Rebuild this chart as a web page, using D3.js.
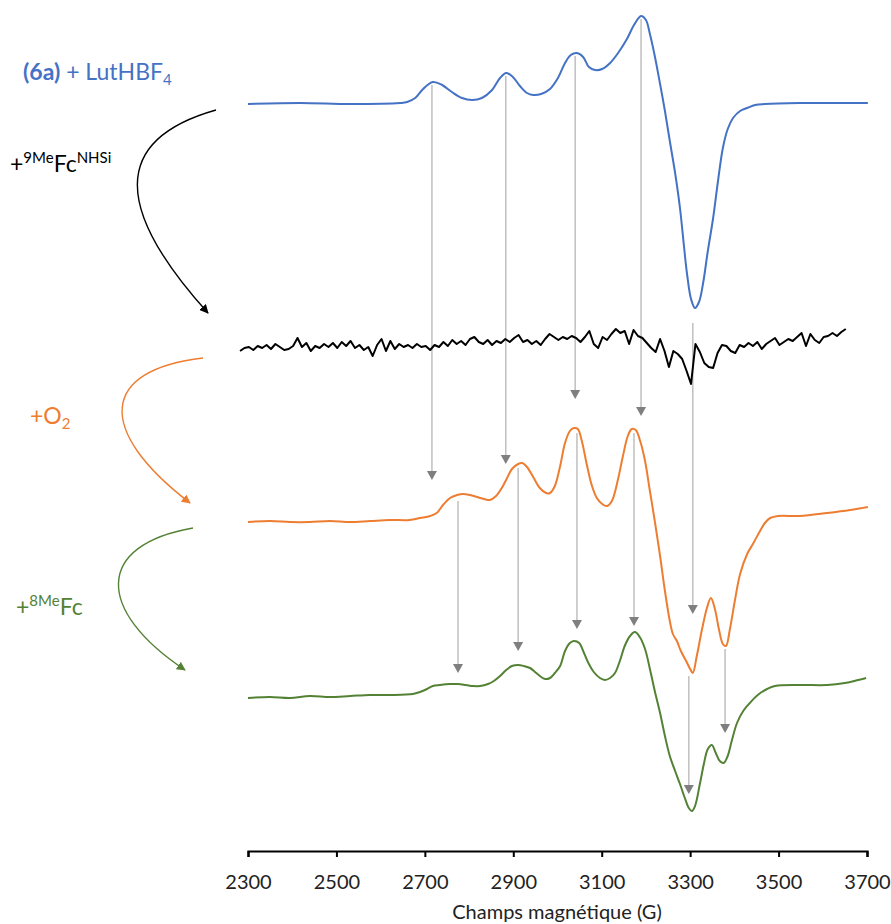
<!DOCTYPE html>
<html>
<head>
<meta charset="utf-8">
<script src="https://cdn.jsdelivr.net/npm/d3@7"></script>
<style>
html,body{margin:0;padding:0;background:#fff;}
svg{display:block;font-family:Lato,"Open Sans",sans-serif;}
</style>
</head>
<body>
<svg id="chart" width="891" height="924"></svg>
<script>
// ---------- DATA ----------
const fieldTicks = [2300, 2500, 2700, 2900, 3100, 3300, 3500, 3700];

// Blue: (6a) + LutHBF4   [field (G), signal (a.u., stacked)]
const blueSpectrum = [
 [2300,747],[2418,748],[2531,747],[2644,748],[2660,749],[2678,753],[2696,762],[2718,769],[2739,766],
 [2761,759],[2784,753],[2807,751],[2829,753],[2852,761],[2870,773],[2884,778],[2899,774],[2915,765],
 [2931,758],[2945,756],[2963,757],[2983,762],[3001,773],[3017,788],[3030,796],[3044,798],[3058,794],
 [3071,784],[3085,781],[3101,782],[3119,788],[3137,798],[3157,812],[3173,826],[3189,835],[3200,831],
 [3209,817],[3220,795],[3232,767],[3243,740],[3254,710],[3266,678],[3277,643],[3286,605],[3293,577],
 [3302,552],[3311,543],[3320,549],[3329,567],[3340,600],[3352,633],[3363,670],[3374,703],[3385,722],
 [3397,733],[3413,740],[3429,743],[3447,746],[3469,747],[3548,748],[3639,748],[3702,748]
];

// Black: + 9MeFcNHSi (noisy), field grid start/step
const blackStart = 2282, blackStep = 10;
const blackSignal = [
 500,503,504,501,505,503,506,502,507,504,501,502,505,513,504,508,500,505,503,507,
 504,508,503,509,505,510,503,506,501,504,495,506,512,500,510,502,507,504,506,503,
 507,504,505,501,506,504,509,505,511,507,510,506,512,514,509,507,511,506,510,508,
 512,509,513,516,509,511,507,510,506,512,517,514,511,514,512,515,513,509,514,520,
 507,503,514,511,517,522,518,520,507,521,515,513,508,503,499,512,500,484,500,497,
 492,480,467,507,499,488,484,483,498,506,505,500,498,506,504,508,505,509,502,507,
 510,513,506,509,512,510,514,518,505,517,511,508,514,515,518,515,519,522
];

// Orange: + O2
const orangeSpectrum = [
 [2300,329],[2350,330],[2395,329],[2440,329],[2485,330],[2531,329],[2576,330],[2621,331],[2666,331],
 [2689,333],[2712,335],[2727,338],[2741,346],[2757,353],[2773,356],[2786,357],[2802,356],[2818,354],
 [2834,352],[2847,351],[2861,355],[2874,363],[2886,373],[2897,382],[2911,387],[2920,388],[2931,384],
 [2945,374],[2960,363],[2974,358],[2983,358],[2994,365],[3006,385],[3017,408],[3028,420],[3037,423],
 [3046,422],[3055,410],[3067,385],[3078,365],[3089,353],[3101,347],[3112,345],[3123,350],[3137,372],
 [3148,395],[3159,415],[3168,422],[3177,421],[3187,410],[3198,390],[3209,360],[3220,330],[3232,295],
 [3243,260],[3254,230],[3261,217],[3270,210],[3279,200],[3291,190],[3300,182],[3306,178],[3315,195],
 [3327,222],[3338,243],[3347,253],[3356,242],[3365,222],[3374,207],[3381,205],[3390,222],[3401,250],
 [3413,277],[3429,297],[3442,307],[3458,320],[3469,328],[3481,333],[3499,335],[3548,335],[3610,338],
 [3662,341],[3702,344]
];

// Green: + 8MeFc
const greenSpectrum = [
 [2300,153],[2350,154],[2395,153],[2440,155],[2485,154],[2531,155],[2576,156],[2621,156],[2673,157],
 [2689,159],[2705,162],[2718,165],[2734,166],[2757,167],[2775,167],[2793,166],[2809,165],[2825,165],
 [2843,167],[2856,170],[2870,175],[2884,181],[2897,185],[2911,186],[2924,185],[2938,183],[2949,179],
 [2960,175],[2972,172],[2983,173],[2994,178],[3006,185],[3017,200],[3028,208],[3037,210],[3049,208],
 [3060,198],[3071,187],[3082,179],[3096,173],[3107,171],[3119,173],[3130,178],[3141,190],[3152,205],
 [3164,215],[3175,219],[3186,214],[3198,202],[3209,182],[3220,160],[3232,138],[3243,115],[3254,95],
 [3266,80],[3277,67],[3288,53],[3297,43],[3304,40],[3311,45],[3322,67],[3331,87],[3340,102],[3349,106],
 [3358,98],[3367,90],[3376,88],[3385,95],[3394,110],[3406,128],[3420,140],[3435,148],[3453,156],
 [3474,162],[3492,165],[3548,166],[3610,166],[3650,168],[3680,171],[3698,173]
];

// Gray correspondence arrows: [field, from signal, to signal]
const arrowsBlueToOrange = [[2716,766,371],[2883,775,387],[3040,795,452],[3189,832,435],[3306,528,237]];
const arrowsOrangeToGreen = [[2775,350,178],[2911,383,200],[3044,418,222],[3173,418,225],[3297,175,57],[3379,202,118]];

const colors = {blue:"#4472C4", black:"#000000", orange:"#ED7D31", green:"#548235"};

// ---------- CHART ----------
const svg = d3.select("#chart");
const x = d3.scaleLinear().domain([2300, 3700]).range([248, 867]);
const y = d3.scaleLinear().domain([0, 850]).range([851, 1]);

const line = d3.line().x(d => x(d[0])).y(d => y(d[1])).curve(d3.curveCatmullRom.alpha(0.5));
const lineLin = d3.line().x(d => x(d[0])).y(d => y(d[1]));

const blackSpectrum = blackSignal.map((v, i) => [blackStart + i * blackStep, v]);

// gray arrows (under traces)
const gA = svg.append("g");
function drawArrow(a){
  const xx = x(a[0]), y1 = y(a[1]), y2 = y(a[2]);
  gA.append("line").attr("x1", xx).attr("x2", xx).attr("y1", y1).attr("y2", y2 - 8)
    .attr("stroke", "#BFBFBF").attr("stroke-width", 1.5);
  gA.append("path").attr("d", `M${xx-5},${y2-9}L${xx+5},${y2-9}L${xx},${y2}Z`).attr("fill", "#7F7F7F");
}
arrowsBlueToOrange.forEach(drawArrow);
arrowsOrangeToGreen.forEach(drawArrow);

// traces
svg.append("path").datum(blueSpectrum).attr("d", line).attr("fill","none").attr("stroke",colors.blue).attr("stroke-width",2);
svg.append("path").datum(blackSpectrum).attr("d", lineLin).attr("fill","none").attr("stroke",colors.black).attr("stroke-width",2).attr("stroke-linejoin","round");
svg.append("path").datum(orangeSpectrum).attr("d", line).attr("fill","none").attr("stroke",colors.orange).attr("stroke-width",2);
svg.append("path").datum(greenSpectrum).attr("d", line).attr("fill","none").attr("stroke",colors.green).attr("stroke-width",2);

// axis
const axis = d3.axisBottom(x).tickValues(fieldTicks).tickFormat(d3.format("d")).tickSize(6).tickPadding(18).tickSizeOuter(6);
const gx = svg.append("g").attr("transform", `translate(0,${y(0)})`).call(axis);
gx.select(".domain").attr("stroke","#000").attr("stroke-width",2.2);
gx.selectAll(".tick line").attr("stroke","#000").attr("stroke-width",2);
gx.selectAll(".tick text").attr("font-size",20).attr("fill","#222").attr("font-family","Lato, 'Open Sans', sans-serif");

svg.append("text").attr("x", 557).attr("y", 919).attr("text-anchor","middle")
  .attr("font-size",20).attr("fill","#222").text("Champs magnétique (G)");

// labels
function label(xp, yp, color, parts){
  const t = svg.append("text").attr("x", xp).attr("y", yp).attr("fill", color);
  parts.forEach(p => {
    const s = t.append("tspan").text(p.t).attr("font-size", p.s);
    if (p.dy) s.attr("dy", p.dy);
    if (p.w) s.attr("font-weight", p.w);
  });
}
label(23, 80, colors.blue, [{t:"(6a)", s:23, w:"bold"}, {t:" + LutHBF", s:23}, {t:"4", s:15, dy:5}]);
label(10, 172, colors.black, [{t:"+", s:23}, {t:"9Me", s:15, dy:-9}, {t:"Fc", s:23, dy:9}, {t:"NHSi", s:15, dy:-9}]);
label(30, 424, colors.orange, [{t:"+O", s:23}, {t:"2", s:15, dy:5}]);
label(16, 615, colors.green, [{t:"+", s:23}, {t:"8Me", s:15, dy:-9}, {t:"Fc", s:23, dy:9}]);

// curved arrows
const defs = svg.append("defs");
[["black",colors.black],["orange",colors.orange],["green",colors.green]].forEach(([n,c]) => {
  defs.append("marker").attr("id","m-"+n).attr("viewBox","0 0 10 10").attr("refX",9).attr("refY",5)
    .attr("markerWidth",9).attr("markerHeight",9).attr("markerUnits","userSpaceOnUse").attr("orient","auto")
    .append("path").attr("d","M0,0L10,5L0,10Z").attr("fill",c);
});
const curves = [
  ["black", colors.black, "M216,110 C110,140 115,210 208,313"],
  ["orange", colors.orange, "M203,358 C100,370 95,430 190,503"],
  ["green", colors.green, "M193,528 C95,545 95,610 185,670"]
];
curves.forEach(([n,c,d]) => {
  svg.append("path").attr("d", d).attr("fill","none").attr("stroke", c).attr("stroke-width",1.4)
    .attr("marker-end", `url(#m-${n})`);
});
</script>
</body>
</html>
